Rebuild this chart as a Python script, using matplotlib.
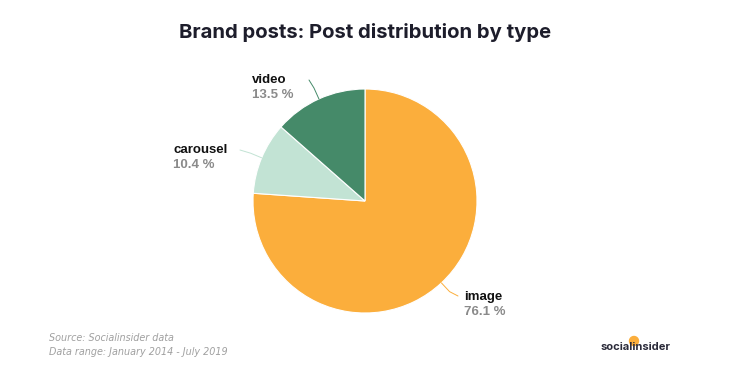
import numpy as np
import matplotlib
matplotlib.use("Agg")
import matplotlib.pyplot as plt

categories = ["image", "carousel", "video"]
values = [76.1, 10.4, 13.5]
colors = ["#FBAE3C", "#C2E3D4", "#458A69"]
line_colors = ["#FBAE3C", "#C2E3D4", "#458A69"]

W, H = 730, 375
fig = plt.figure(figsize=(7.3, 3.75), dpi=100)
ax = fig.add_axes([0, 0, 1, 1])
cx, cy, R = 365, H - 201, 112
wedges, _ = ax.pie(values, colors=colors, startangle=90, counterclock=False,
                   center=(cx, cy), radius=R, frame=True,
                   wedgeprops=dict(edgecolor="white", linewidth=0.8))
ax.set_xlim(0, W)
ax.set_ylim(0, H)
ax.set_aspect("equal")
ax.axis("off")

label_pos = {"image": (464, 297), "carousel": (173, 150), "video": (252, 80)}
for w, cat, val, lc in zip(wedges, categories, values, line_colors):
    ang = np.deg2rad((w.theta1 + w.theta2) / 2)
    x0, y0 = cx + R * np.cos(ang), cy + R * np.sin(ang)
    x1, y1 = cx + (R + 12) * np.cos(ang), cy + (R + 12) * np.sin(ang)
    lx, ly = label_pos[cat]
    ly_d = H - ly
    if cat == "image":
        x2, y2 = lx - 6, ly_d + 1
    elif cat == "carousel":
        x2, y2 = lx + 67, ly_d
    else:
        x2, y2 = lx + 57, ly_d
    ax.plot([x0, x1, x2], [y0, y1, y2], color=lc, lw=0.7, solid_capstyle="round")
    ax.text(lx, ly_d, cat, ha="left", va="center", fontsize=9.5, fontweight="bold",
            family="Liberation Sans", color="#111111")
    ax.text(lx, ly_d - 15, f"{val} %", ha="left", va="center", fontsize=9.5, fontweight="bold",
            family="Liberation Sans", color="#8a8a8a")

fig.text(365 / W, 1 - 32 / H, "Brand posts: Post distribution by type", ha="center", va="center",
         fontsize=14.6, fontweight="bold", family="Inter", color="#1d1d2b")
fig.text(49 / W, 1 - 338 / H, "Source: Socialinsider data", ha="left", va="center",
         fontsize=6.9, style="italic", family="DejaVu Sans", color="#a0a0a0")
fig.text(49 / W, 1 - 352 / H, "Data range: January 2014 - July 2019", ha="left", va="center",
         fontsize=6.9, style="italic", family="DejaVu Sans", color="#a0a0a0")
ax.add_patch(plt.Circle((634, H - 341), 4.5, color="#FBAE3C", zorder=1))
fig.text(601 / W, 1 - 347 / H, "socialinsider", ha="left", va="center",
         fontsize=8, fontweight="bold", family="Inter", color="#2b2b3a", zorder=3)

fig.savefig("out.png", dpi=100)
